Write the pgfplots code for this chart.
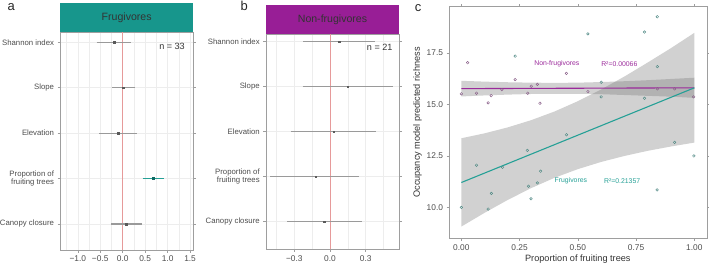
\documentclass[border=0pt]{standalone}
\usepackage{fontspec}
\setmainfont{Liberation Sans}
\usepackage{pgfplots}
\pgfplotsset{compat=1.18}
\definecolor{teal1}{HTML}{17968C}
\definecolor{purp1}{HTML}{981E96}
\definecolor{tline}{HTML}{25A096}
\definecolor{pline}{HTML}{9B2A9B}
\definecolor{txt}{HTML}{4D4D4D}
\definecolor{gridc}{HTML}{EDEDED}
\definecolor{zeroc}{HTML}{E69A9A}
\definecolor{barc}{HTML}{9A9A9A}
\definecolor{ptc}{HTML}{5A5A5A}
\definecolor{bord}{HTML}{9E9E9E}
\pgfplotsset{
  forest/.style={
    scale only axis,
    axis line style={bord},
    tick style={bord, line width=0.5bp},
    tick align=outside,
    major tick length=2.5bp,
    minor tick length=0bp,
    ymin=0.4, ymax=5.2,
    ytick={1,2,3,4,5},
    yticklabels={Canopy closure,{Proportion of\\fruiting trees},Elevation,Slope,Shannon index},
    yticklabel style={align=right, font=\fontsize{7.8}{8.6}\selectfont, text=txt},
    xticklabel style={font=\fontsize{8.4}{9}\selectfont, text=txt},
    ymajorgrids, xmajorgrids, xminorgrids,
    major grid style={gridc, line width=0.5bp},
    minor grid style={gridc, line width=0.4bp},
    clip=false,
    axis on top=false,
  },
}
\begin{document}
\begin{tikzpicture}[x=1bp,y=1bp]
\useasboundingbox (0,0) rectangle (709,267);
% ---------------- panel a
\begin{axis}[forest, at={(60bp,17bp)}, anchor=south west,
  width=133.3bp, height=217.7bp,
  xmin=-1.396, xmax=1.572, ymax=5.22, ymin=0.427,
  xtick={-1,-0.5,0,0.5,1,1.5},
  xticklabels={−1.0,−0.5,0.0,0.5,1.0,1.5},
  minor xtick={-1.25,-0.75,-0.25,0.25,0.75,1.25},
]
\fill[teal1] (rel axis cs:0,1) rectangle ([yshift=29bp]rel axis cs:1,1);
\node[font=\fontsize{10.6}{12}\selectfont, text=black!80] at ([yshift=14.5bp]rel axis cs:0.5,1) {Frugivores};
\addplot[zeroc, line width=0.7bp] coordinates {(0,0.427) (0,5.22)};
\addplot[barc, line width=1.1bp] coordinates {(-0.579,5) (0.185,5)};
\addplot[barc, line width=1.1bp] coordinates {(-0.245,4) (0.274,4)};
\addplot[barc, line width=1.1bp] coordinates {(-0.521,3) (0.312,3)};
\addplot[tline, line width=1.8bp] coordinates {(0.445,2) (0.927,2)};
\addplot[barc, line width=1.1bp] coordinates {(-0.261,1) (0.423,1)};
\addplot[only marks, mark=square*, mark size=0.9bp, ptc] coordinates {(-0.194,5) (0.013,4) (-0.098,3) (0.073,1)};
\addplot[only marks, mark=square*, mark size=1.0bp, teal1!70!black] coordinates {(0.682,2)};
\node[anchor=east, font=\fontsize{9.1}{10}\selectfont, text=black!80] at (rel axis cs:0.962,0.934) {n = 33};
\end{axis}
% ---------------- panel b
\begin{axis}[forest, at={(265.7bp,17.7bp)}, anchor=south west,
  width=133.6bp, height=215bp,
  xmin=-0.540, xmax=0.582, ymax=5.16, ymin=0.387,
  xtick={-0.3,0,0.3},
  xticklabels={−0.3,0.0,0.3},
  minor xtick={-0.45,-0.15,0.15,0.45},
]
\fill[purp1] (rel axis cs:0,1) rectangle ([yshift=29.4bp]rel axis cs:1,1);
\node[font=\fontsize{10.6}{12}\selectfont, text=black!80] at ([yshift=14.7bp]rel axis cs:0.5,1) {Non-frugivores};
\addplot[zeroc, line width=0.7bp] coordinates {(0,0.387) (0,5.16)};
\addplot[barc, line width=1.1bp] coordinates {(-0.224,5) (0.378,5)};
\addplot[barc, line width=1.1bp] coordinates {(-0.23,4) (0.53,4)};
\addplot[barc, line width=1.1bp] coordinates {(-0.33,3) (0.39,3)};
\addplot[barc, line width=1.1bp] coordinates {(-0.50,2) (0.24,2)};
\addplot[barc, line width=1.1bp] coordinates {(-0.36,1) (0.27,1)};
\addplot[only marks, mark=square*, mark size=0.8bp, ptc] coordinates {(0.076,5) (0.15,4) (0.03,3) (-0.12,2) (-0.05,1)};
\node[anchor=east, font=\fontsize{9.1}{10}\selectfont, text=black!80] at (rel axis cs:0.975,0.94) {n = 21};
\end{axis}
% ---------------- panel c
\begin{axis}[at={(449bp,28.7bp)}, anchor=south west, scale only axis,
  width=257.7bp, height=231.6bp,
  xmin=-0.053, xmax=1.053, ymin=8.5, ymax=19.75,
  axis line style={bord},
  tick style={bord, line width=0.5bp},
  tick align=outside, major tick length=2.5bp,
  xtick={0,0.25,0.5,0.75,1}, xticklabels={0.00,0.25,0.50,0.75,1.00},
  ytick={10,12.5,15,17.5}, yticklabels={10.0,12.5,15.0,17.5},
  ticklabel style={font=\fontsize{8.4}{9}\selectfont, text=txt},
  xlabel={Proportion of fruiting trees},
  ylabel={Occupancy model predicted richness},
  label style={font=\fontsize{9.2}{10}\selectfont, text=black!80},
  xlabel style={yshift=2bp},
  ylabel style={yshift=-2bp},
  clip=false,
]
% bands
\addplot[draw=none, fill=black!55, fill opacity=0.33] coordinates {
 (0,9.07) (0.1,9.74) (0.2,10.37) (0.3,10.94) (0.4,11.44) (0.5,11.86) (0.6,12.21) (0.7,12.50) (0.8,12.75) (0.9,12.96) (1.0,13.15)
 (1.0,18.48) (0.9,17.74) (0.8,17.04) (0.7,16.36) (0.6,15.73) (0.5,15.16) (0.4,14.66) (0.3,14.24) (0.2,13.89) (0.1,13.60) (0,13.36)} -- cycle;
\addplot[draw=none, fill=black!55, fill opacity=0.33] coordinates {
 (0,15.39) (0.1,15.44) (0.2,15.48) (0.3,15.51) (0.4,15.52) (0.5,15.52) (0.6,15.50) (0.7,15.46) (0.8,15.42) (0.9,15.38) (1.0,15.32)
 (1.0,16.30) (0.9,16.24) (0.8,16.18) (0.7,16.13) (0.6,16.09) (0.5,16.06) (0.4,16.05) (0.3,16.06) (0.2,16.08) (0.1,16.11) (0,16.15)} -- cycle;
% fits
\addplot[pline, line width=1.1bp] coordinates {(0,15.77) (1,15.81)};
\addplot[tline, line width=1.1bp] coordinates {(0,11.21) (1,15.81)};
% points
\addplot[only marks, mark=o, mark size=1.3bp, mark options={line width=0.45bp, draw=teal1!45!gray}] coordinates {
 (0.841,19.26) (0.543,18.43) (0.786,18.52) (0.231,17.35) (0.841,16.84) (0.60,16.08) (0.60,15.37)
 (0.451,13.53) (0.283,12.77) (0.065,12.05) (0.177,11.95) (0.34,11.76) (0.326,11.19) (0.288,11.03)
 (0.129,10.68) (0.299,10.42) (0,10.0) (0.115,9.92) (0.915,13.16) (0.998,12.5) (0.840,10.85) (0.786,15.30)};
\addplot[only marks, mark=o, mark size=1.3bp, mark options={line width=0.45bp, draw=purp1!35!gray}] coordinates {
 (0.027,17.03) (0.231,16.21) (0.451,16.51) (0,15.52) (0.065,15.55) (0.128,15.43) (0.115,15.08) (0.174,15.72)
 (0.285,15.55) (0.30,15.89) (0.326,15.98) (0.337,15.06) (0.543,15.63) (0.841,15.76) (0.915,15.76) (0.997,15.37)};
\node[font=\fontsize{6.9}{8}\selectfont, text=pline] at (axis cs:0.41,16.97) {Non-frugivores};
\node[font=\fontsize{6.9}{8}\selectfont, text=pline] at (axis cs:0.678,16.97) {R²=0.00066};
\node[font=\fontsize{6.9}{8}\selectfont, text=tline] at (axis cs:0.47,11.29) {Frugivores};
\node[font=\fontsize{6.9}{8}\selectfont, text=tline] at (axis cs:0.69,11.29) {R²=0.21357};
\end{axis}
% panel letters
\node[font=\fontsize{13}{14}\selectfont, text=black!85] at (11.2,260) {a};
\node[font=\fontsize{13}{14}\selectfont, text=black!85] at (244.2,261) {b};
\node[font=\fontsize{13}{14}\selectfont, text=black!85] at (418,259) {c};
\end{tikzpicture}
\end{document}
